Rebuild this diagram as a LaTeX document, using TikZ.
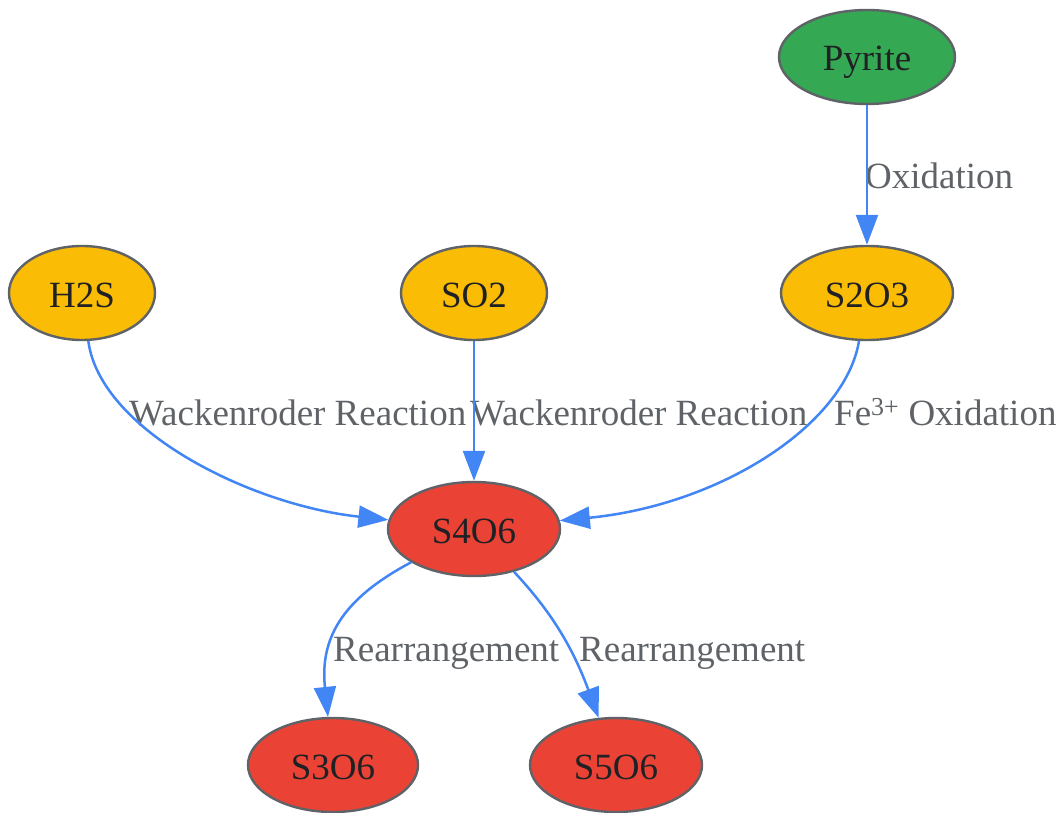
\documentclass[tikz,border=0pt]{standalone}
\usepackage{fontspec}
\setmainfont{Liberation Serif}
\usetikzlibrary{arrows.meta}
\usetikzlibrary{positioning}
\usetikzlibrary{shapes.geometric}

\definecolor{pyritegreen}{HTML}{34A853}
\definecolor{sulfuryellow}{HTML}{FBBC05}
\definecolor{thionatered}{HTML}{EA4335}
\definecolor{rimgray}{HTML}{5F6368}
\definecolor{inkdark}{HTML}{202124}
\definecolor{flowblue}{HTML}{4285F4}

\begin{document}
\begin{tikzpicture}[x=1pt, y=-1pt, >={Triangle[length=30pt, width=22pt]}, node distance=236pt and 392pt, on grid]
		 \tikzstyle{species} = [ellipse, draw=rimgray, line width=2.4pt, inner sep=0pt, minimum height=94pt, text height=28pt, text depth=0pt, text=inkdark, font=\fontsize{37}{44}\selectfont];
		 \tikzstyle{reaction} = [->, draw=flowblue, line width=2.5pt];
		 \tikzstyle{rlabel} = [anchor=base west, inner sep=0pt, text=rimgray, font=\fontsize{37}{44}\selectfont];

		 \useasboundingbox (0,0) rectangle (1062,813);

		 \node [species, fill=pyritegreen, minimum width=176pt]  (pyrite) at (867,57)             {Pyrite};
		 \node [species, fill=sulfuryellow, minimum width=172pt] (s2o3) [below=of pyrite]          {S2O3};
		 \node [species, fill=sulfuryellow, minimum width=146pt] (so2)  [left=393pt of s2o3]       {SO2};
		 \node [species, fill=sulfuryellow, minimum width=146pt] (h2s)  [left=of so2]             {H2S};
		 \node [species, fill=thionatered, minimum width=172pt]  (s4o6) [below=of so2]             {S4O6};
		 \node [species, fill=thionatered, minimum width=170pt]  (s3o6) [below left=236pt and 141pt of s4o6]  {S3O6};
		 \node [species, fill=thionatered, minimum width=172pt]  (s5o6) [below right=236pt and 142pt of s4o6] {S5O6};

		 \node [rlabel] (l_ox)   at (865,189) {Oxidation};
		 \node [rlabel] (l_wr1)  at (129,425) {Wackenroder Reaction};
		 \node [rlabel] (l_wr2)  at (470,425) {Wackenroder Reaction};
		 \node [rlabel] (l_fe)   at (834,425) {Fe\textsuperscript{3+} Oxidation};
		 \node [rlabel] (l_re1)  at (333,661) {Rearrangement};
		 \node [rlabel] (l_re2)  at (579,661) {Rearrangement};

		 \draw [reaction] (pyrite) -- (s2o3);
		 \draw [reaction] (h2s) .. controls (100,430) and (250,505) .. (s4o6);
		 \draw [reaction] (so2) -- (s4o6);
		 \draw [reaction] (s2o3) .. controls (845,425) and (720,505) .. (s4o6);
		 \draw [reaction] (s4o6) .. controls (340,600) and (320,640) .. (s3o6);
		 \draw [reaction] (s4o6) .. controls (545,605) and (570,640) .. (s5o6);
	\end{tikzpicture}
\end{document}
